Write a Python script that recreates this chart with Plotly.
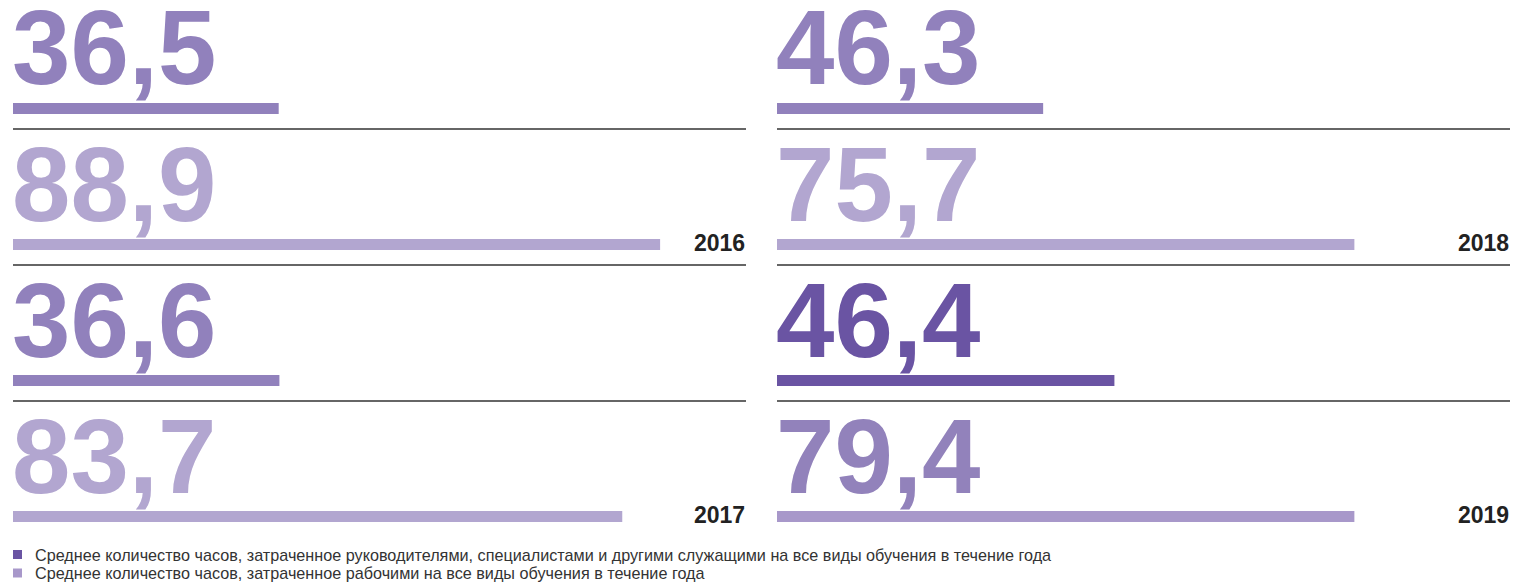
import plotly.graph_objects as go

# ---------------- data ----------------
years = ["2016", "2017", "2018", "2019"]
managers_hours = [36.5, 36.6, 46.3, 46.4]      # printed values
workers_hours = [88.9, 83.7, 75.7, 79.4]
# bar lengths as drawn in the reference
managers_bar = [36.5, 36.6, 36.6, 46.4]
workers_bar = [88.9, 83.7, 79.4, 79.4]
legend_labels = [
    "Среднее количество часов, затраченное руководителями, специалистами и другими служащими на все виды обучения в течение года",
    "Среднее количество часов, затраченное рабочими на все виды обучения в течение года",
]

# ---------------- styles ----------------
managers_text_colors = ["#9181bc", "#9181bc", "#9181bc", "#6a54a3"]
managers_bar_colors = ["#9181bc", "#9181bc", "#9181bc", "#6a54a3"]
workers_text_colors = ["#b2a6d0", "#b2a6d0", "#b2a6d0", "#9282bb"]
workers_bar_colors = ["#b2a6d0", "#b2a6d0", "#b2a6d0", "#a898ca"]
legend_colors = ["#6a54a3", "#a898ca"]

W, H = 1526, 583
FONT = "Liberation Sans, Arial, sans-serif"
PITCH = 136.0          # px between rows
ROW0 = 108.5           # px, centre of first bar
y_top = -ROW0 / PITCH
y_bot = (H - ROW0) / PITCH
BAR_W = 11 / PITCH
SEP_OFF = 20.5 / PITCH

panels = [
    dict(xaxis="x", yaxis="y", dom=[13 / W, 746 / W]),
    dict(xaxis="x2", yaxis="y2", dom=[777 / W, 1510 / W]),
]

fig = go.Figure()
annotations = []
shapes = []

for p, pan in enumerate(panels):
    idx = [i for i in range(len(years)) if i // 2 == p]
    rows_m, rows_w, vals_m, vals_w = [], [], [], []
    cols_m, cols_w = [], []
    for i in idx:
        b = i % 2
        rows_m.append(2 * b)
        rows_w.append(2 * b + 1)
        vals_m.append(managers_bar[i])
        vals_w.append(workers_bar[i])
        cols_m.append(managers_bar_colors[i])
        cols_w.append(workers_bar_colors[i])
    fig.add_trace(go.Bar(x=vals_m, y=rows_m, orientation="h", width=BAR_W,
                         marker=dict(color=cols_m, line=dict(width=0)),
                         xaxis=pan["xaxis"], yaxis=pan["yaxis"], showlegend=False,
                         hoverinfo="skip"))
    fig.add_trace(go.Bar(x=vals_w, y=rows_w, orientation="h", width=BAR_W,
                         marker=dict(color=cols_w, line=dict(width=0)),
                         xaxis=pan["xaxis"], yaxis=pan["yaxis"], showlegend=False,
                         hoverinfo="skip"))
    xr = pan["xaxis"]
    yr = pan["yaxis"]
    for i in idx:
        b = i % 2
        for k, (val, col) in enumerate([(managers_hours[i], managers_text_colors[i]),
                                        (workers_hours[i], workers_text_colors[i])]):
            row = 2 * b + k
            annotations.append(dict(
                x=0, y=row, xref=xr, yref=yr, xanchor="left", yanchor="bottom",
                xshift=-3, yshift=0, showarrow=False,
                text=f"{val:.1f}".replace(".", ","),
                font=dict(family=FONT, size=105, color=col, weight="bold")))
        # year label
        annotations.append(dict(
            x=1, y=2 * b + 1, xref=f"{xr} domain", yref=yr, xanchor="right",
            yanchor="bottom", xshift=1, yshift=-13, showarrow=False,
            text=years[i], font=dict(family=FONT, size=23, color="#222222", weight="bold")))
    # separators
    for r in range(3):
        shapes.append(dict(type="line", xref=f"{xr} domain", yref=yr, x0=0, x1=1,
                           y0=r + SEP_OFF, y1=r + SEP_OFF,
                           line=dict(color="#333333", width=1.3)))

# legend
for j, (lab, col) in enumerate(zip(legend_labels, legend_colors)):
    yc = 554.5 + 18.5 * j
    shapes.append(dict(type="rect", xref="paper", yref="paper",
                       x0=13 / W, x1=22 / W, y0=1 - (yc - 4.5) / H, y1=1 - (yc + 4.5) / H,
                       fillcolor=col, line=dict(width=0)))
    annotations.append(dict(x=33 / W, y=1 - yc / H, xref="paper", yref="paper",
                            xanchor="left", yanchor="middle", showarrow=False,
                            text=lab, font=dict(family=FONT, size=16.2, color="#333333")))

axis_common = dict(showgrid=False, zeroline=False, showticklabels=False,
                   showline=False, ticks="", fixedrange=True)
fig.update_layout(
    width=W, height=H, margin=dict(l=0, r=0, t=0, b=0),
    paper_bgcolor="white", plot_bgcolor="white", barmode="overlay",
    xaxis=dict(domain=panels[0]["dom"], range=[0, 100.7], **axis_common),
    xaxis2=dict(domain=panels[1]["dom"], range=[0, 100.8], anchor="y2", **axis_common),
    yaxis=dict(domain=[0, 1], range=[y_bot, y_top], **axis_common),
    yaxis2=dict(domain=[0, 1], range=[y_bot, y_top], anchor="x2", **axis_common),
    annotations=annotations, shapes=shapes, showlegend=False,
)

fig.write_html("out.html", config={"displayModeBar": False},
               post_script="document.body.style.margin='0';document.body.style.overflow='hidden';")
